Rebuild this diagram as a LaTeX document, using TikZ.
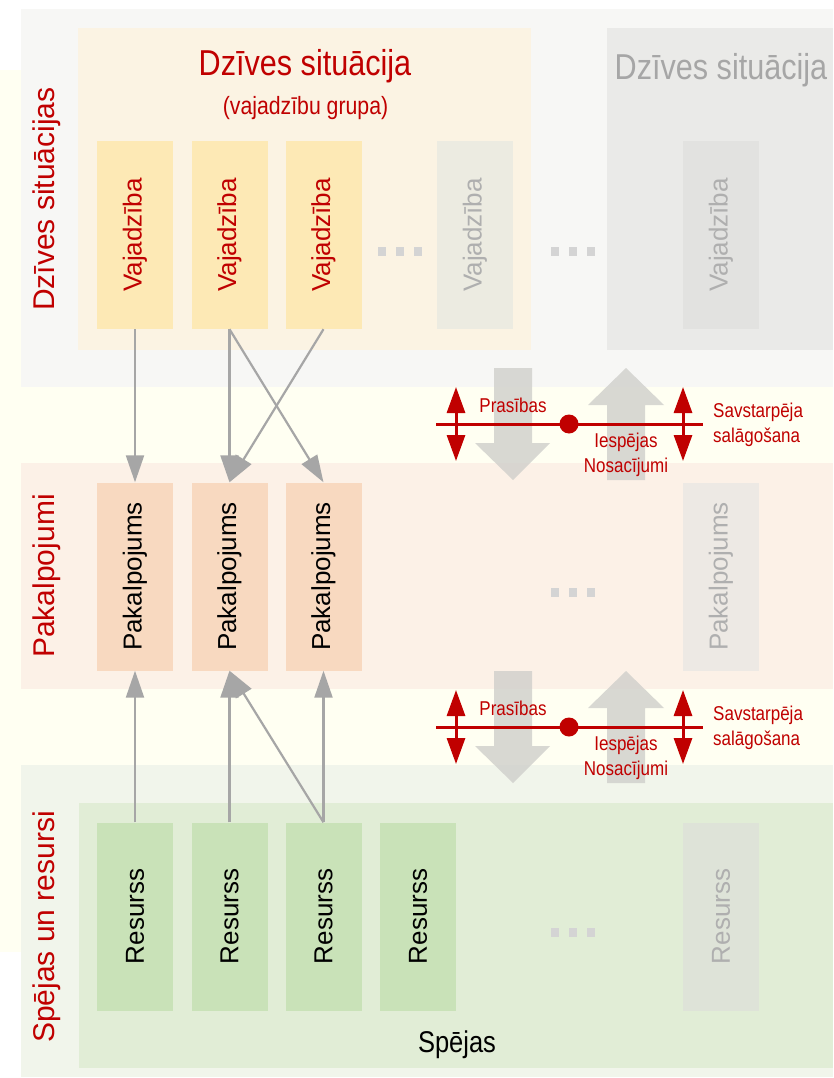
\documentclass[tikz,border=0pt]{standalone}
\usepackage{fontspec}
\setmainfont{Liberation Sans}
\newfontfamily\narrowfont[FakeStretch=0.85]{Liberation Sans}
\usetikzlibrary{arrows.meta}

\newcommand\fsz[1]{\fontsize{#1}{#1}\selectfont}

\definecolor{lvred}{HTML}{C00000}
\definecolor{connline}{HTML}{A6A6A6}
\definecolor{yellowbg}{HTML}{FFFFF2}
\definecolor{topbg}{HTML}{F7F7F5}
\definecolor{midbg}{HTML}{FCF1E7}
\definecolor{lowbg}{HTML}{F1F5EB}
\definecolor{groupbg}{HTML}{FBF3E3}
\definecolor{greygroup}{HTML}{EAEAE8}
\definecolor{capbg}{HTML}{E1EDD6}
\definecolor{needfill}{HTML}{FDE9B5}
\definecolor{servfill}{HTML}{F8D9C0}
\definecolor{resfill}{HTML}{C9E2B8}
\definecolor{fadeneed}{HTML}{ECEBE1}
\definecolor{fadegrey}{HTML}{E2E2E0}
\definecolor{fadeserv}{HTML}{EDE9E4}
\definecolor{faderes}{HTML}{DEE3D8}
\definecolor{fadetext}{HTML}{AFAFAF}
\definecolor{bigarrow}{HTML}{CFCFCB}
\definecolor{dotfill}{HTML}{D4D4D4}

\tikzset{
  colbox/.style={minimum width=76pt, minimum height=188pt, inner sep=0pt, font=\fsz{26}},
  needbox/.style={colbox, fill=needfill, text=lvred},
  servbox/.style={colbox, fill=servfill, text=black},
  resbox/.style={colbox, fill=resfill, text=black},
  faded/.style={fill=#1, text=fadetext},
  sidelabel/.style={text=lvred, font=\fsz{30}, inner sep=0pt},
  smalllabel/.style={text=lvred, font=\narrowfont\fsz{20}, inner sep=0pt, anchor=base},
  conn/.style={color=connline, line width=2.2pt, -{Triangle[length=27pt,width=18pt]}},
  redarrow/.style={draw=lvred, fill=lvred, line width=3pt, {Triangle[length=26pt,width=18pt]}-{Triangle[length=26pt,width=18pt]}}
}

\begin{document}
\begin{tikzpicture}[x=1pt,y=-1pt]
  \useasboundingbox (0,0) rectangle (833,1078);
  % bands
  \fill[yellowbg] (0,70) rectangle (833,952);
  \fill[topbg] (21,9) rectangle (833,387);
  \fill[midbg] (21,463) rectangle (833,689);
  \fill[lowbg] (21,765) rectangle (833,1077);
  \fill[groupbg] (78,28) rectangle (531,350);
  \fill[greygroup] (607,28) rectangle (833,350);
  \fill[capbg] (79,803) rectangle (833,1068);

  \node[sidelabel] (lsit) at (47,199) {\rotatebox{90}{Dzīves situācijas}};
  \node[sidelabel] (lserv) at (47,576) {\rotatebox{90}{Pakalpojumi}};
  \node[sidelabel] (lres) at (47,927) {\rotatebox{90}{Spējas un resursi}};

  \node[text=lvred, font=\narrowfont\fsz{36}, anchor=base, inner sep=0pt] (title) at (305,76) {Dzīves situācija};
  \node[text=lvred, font=\narrowfont\fsz{25}, anchor=base, inner sep=0pt] (subtitle) at (305.5,115) {(vajadzību grupa)};
  \node[text=connline, font=\narrowfont\fsz{36}, anchor=base, inner sep=0pt] (title2) at (721,80) {Dzīves situācija};
  \node[font=\narrowfont\fsz{30}, anchor=base, inner sep=0pt] (cap) at (457,1052) {Spējas};

  \node[needbox] (v1) at (135,235) {\rotatebox{90}{Vajadzība}};
  \node[needbox] (v2) at (229.5,235) {\rotatebox{90}{Vajadzība}};
  \node[needbox] (v3) at (323.5,235) {\rotatebox{90}{Vajadzība}};
  \node[needbox, faded=fadeneed] (v4) at (475,235) {\rotatebox{90}{Vajadzība}};
  \node[needbox, faded=fadegrey] (v5) at (721,235) {\rotatebox{90}{Vajadzība}};

  \node[servbox] (p1) at (135,576.5) {\rotatebox{90}{Pakalpojums}};
  \node[servbox] (p2) at (229.5,576.5) {\rotatebox{90}{Pakalpojums}};
  \node[servbox] (p3) at (323.5,576.5) {\rotatebox{90}{Pakalpojums}};
  \node[servbox, faded=fadeserv] (p4) at (721,576.5) {\rotatebox{90}{Pakalpojums}};

  \node[resbox] (r1) at (135,916.5) {\rotatebox{90}{Resurss}};
  \node[resbox] (r2) at (229.5,916.5) {\rotatebox{90}{Resurss}};
  \node[resbox] (r3) at (323.5,916.5) {\rotatebox{90}{Resurss}};
  \node[resbox] (r4) at (418,916.5) {\rotatebox{90}{Resurss}};
  \node[resbox, faded=faderes] (r5) at (721,916.5) {\rotatebox{90}{Resurss}};

  % ...
  \foreach \cx/\cy in {400/251, 573/251, 573/592, 573/932}
    \foreach \k in {-18,0,18}
      \fill[dotfill] (\cx+\k-4,\cy-4.5) rectangle +(8,9);

  \path[conn]
    (v1.south) edge (p1.north)
    (v2.south) edge (p2.north)
    (v2.south) edge (p3.north)
    (v3.south) edge (p2.north)
    (r1.north) edge (p1.south)
    (r2.north) edge (p2.south)
    (r3.north) edge (p3.south)
    (r3.north) edge (p2.south);

  % requirements / possibilities
  \foreach \n/\y in {a/424, b/727} {
    \fill[bigarrow, fill opacity=0.8] (494,\y-56) -- (532,\y-56) -- (532,\y+19) -- (550,\y+19)
      -- (513,\y+56) -- (475,\y+19) -- (494,\y+19) -- cycle;
    \fill[bigarrow, fill opacity=0.8] (607,\y+56) -- (645,\y+56) -- (645,\y-19) -- (664,\y-19)
      -- (626,\y-56) -- (588,\y-19) -- (607,\y-19) -- cycle;
    \coordinate (l\n) at (436,\y);
    \coordinate (r\n) at (703,\y);
    \draw[lvred, line width=3pt] (l\n) -- (r\n);
    \coordinate (ua\n) at (456,\y-37);
    \coordinate (da\n) at (456,\y+37);
    \coordinate (ub\n) at (683,\y-37);
    \coordinate (db\n) at (683,\y+37);
    \draw[redarrow] (ua\n) -- (da\n);
    \draw[redarrow] (ub\n) -- (db\n);
    \node[circle, fill=lvred, minimum size=19pt, inner sep=0pt] (dot\n) at (569,\y) {};
    \node[smalllabel] (req\n) at (513,\y-12) {Prasības};
    \node[smalllabel] (pos\n) at (626,\y+23) {Iespējas};
    \node[smalllabel] (cond\n) at (626,\y+48) {Nosacījumi};
    \node[smalllabel, anchor=base west] (mut\n) at (713,\y-7) {Savstarpēja};
    \node[smalllabel, anchor=base west] (coord\n) at (713,\y+18) {salāgošana};
  }
\end{tikzpicture}
\end{document}
